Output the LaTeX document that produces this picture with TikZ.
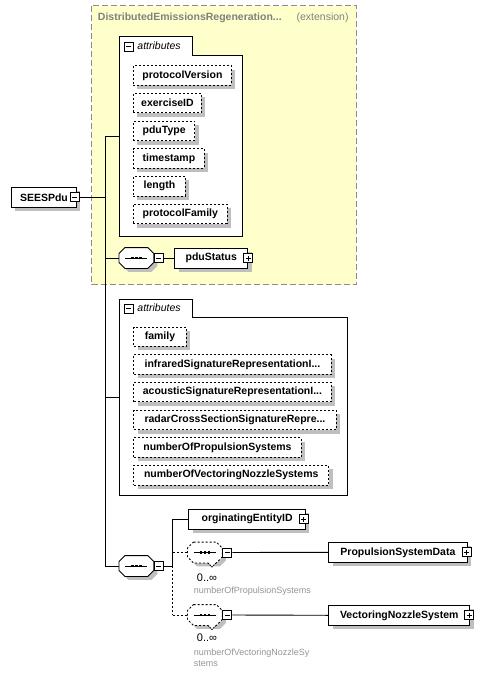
\documentclass[tikz,border=0pt]{standalone}
\usepackage{fontspec}
\setmainfont{Liberation Sans}
\usetikzlibrary{shadows}
\definecolor{extyellow}{HTML}{FFFFCC}
\newcommand\cut{...}
% octagon round a node: name, xshift, yshift
\newcommand\octa[3]{([xshift=#2+6pt,yshift=#3]#1.north west) -- ([xshift=#2-6pt,yshift=#3]#1.north east) -- ([xshift=#2,yshift=#3-6pt]#1.north east)
	-- ([xshift=#2,yshift=#3+6pt]#1.south east) -- ([xshift=#2-6pt,yshift=#3]#1.south east) -- ([xshift=#2+6pt,yshift=#3]#1.south west)
	-- ([xshift=#2,yshift=#3+6pt]#1.south west) -- ([xshift=#2,yshift=#3-6pt]#1.north west) -- cycle}
\begin{document}
\begin{tikzpicture}[x=1pt,y=-1pt,font=\fontsize{10.5}{12}\selectfont\bfseries,line width=0.9pt,line join=miter,
	shade/.style={general shadow={fill=black!25,shadow xshift=4pt,shadow yshift=-4pt}},
	elem/.style={draw,fill=white,shade,inner sep=0pt,minimum height=20,anchor=west},
	attr/.style={elem,dash pattern=on 2pt off 2pt,minimum height=19.5},
	minus/.style={draw,fill=white,solid,minimum size=9,inner sep=0pt,
		path picture={\draw ([xshift=-2.5pt]path picture bounding box.center)--([xshift=2.5pt]path picture bounding box.center);}},
	plus/.style={draw,fill=white,solid,minimum size=9,inner sep=0pt,
		path picture={\draw ([xshift=-2.5pt]path picture bounding box.center)--([xshift=2.5pt]path picture bounding box.center);
			\draw ([yshift=-2.5pt]path picture bounding box.center)--([yshift=2.5pt]path picture bounding box.center);}},
	seq/.style={rectangle,minimum width=34,minimum height=20,inner sep=0pt,anchor=west},
	dashes/.style={dash pattern=on 2pt off 2pt},
	occ/.style={font=\fontsize{11}{12}\selectfont,anchor=west,inner sep=0pt},
	lbl/.style={font=\fontsize{9}{10.5}\selectfont,text=black!42,anchor=west,inner sep=0pt,align=left}]
	\useasboundingbox (0,0) rectangle (500,678);
	% extension frame
	\draw[draw=black!45,fill=extyellow,dash pattern=on 6pt off 3pt] (91.5,5.5) rectangle (356,284.5);
	\node[anchor=west,text=black!50,inner sep=0pt] (extname) at (97.5,18) {DistributedEmissionsRegeneration\cut};
	\node[anchor=east,text=black!50,font=\fontsize{10.5}{12}\selectfont,inner sep=0pt] (extkind) at (349,18) {(extension)};
	% attribute groups
	\draw[fill=white] (119,236) -- (119,36) -- (192,36) -- (192,55) -- (242.5,55) -- (242.5,236) -- cycle;
	\node[minus] (grpAx) at (128.5,46.5) {};
	\node[anchor=west,font=\fontsize{10.5}{12}\selectfont\itshape,inner sep=0pt] (grpAlbl) at (137,46) {attributes};
	\foreach \n/\w [count=\i] in {protocolVersion/98,exerciseID/68,pduType/61.3,timestamp/71,length/52,protocolFamily/93.7}
		\node[attr,minimum width=\w] (attA\i) at (133,{75.4+27.7*(\i-1)}) {\n};
	\draw[fill=white] (119,495) -- (119,299) -- (192,299) -- (192,317) -- (347,317) -- (347,495) -- cycle;
	\node[minus] (grpBx) at (128.5,308.5) {};
	\node[anchor=west,font=\fontsize{10.5}{12}\selectfont\itshape,inner sep=0pt] (grpBlbl) at (137,308) {attributes};
	\foreach \n/\w [count=\i] in {family/52.4,infraredSignatureRepresentationI\cut/197.4,acousticSignatureRepresentationI\cut/197.4,
		radarCrossSectionSignatureRepre\cut/202.4,numberOfPropulsionSystems/167.4,numberOfVectoringNozzleSystems/195}
		\node[attr,minimum width=\w] (attB\i) at (133.3,{336.7+27.7*(\i-1)}) {\n};
	% sequences
	\node[seq] (seqA) at (119,258) {};
	\node[seq] (seqB) at (119,566) {};
	\node[seq] (repA) at (187.5,552.5) {};
	\node[seq] (repB) at (187.5,615) {};
	\foreach \s/\st in {seqA/solid,seqB/solid,repA/dashes,repB/dashes} {
		\fill[black!25] \octa{\s}{3.5pt}{-3.5pt};
		\draw[fill=white,\st] \octa{\s}{0pt}{0pt};
		\draw ([xshift=-11pt]\s.center) -- ([xshift=11pt]\s.center);
		\foreach \d in {-4,0,4} \fill ([xshift=\d pt]\s.center) +(-1.4pt,-1.4pt) rectangle +(1.4pt,1.4pt);
	}
	% repeat notches
	\foreach \r in {repA,repB} {
		\fill[white] ([xshift=3pt]\r.south) -- ([xshift=7pt,yshift=-4pt]\r.south) -- ([xshift=11pt]\r.south) -- cycle;
		\draw[white,line width=1.2pt] ([xshift=3pt]\r.south) -- ([xshift=11pt]\r.south);
		\draw[dash pattern=on 1.5pt off 1pt] ([xshift=3pt]\r.south) -- ([xshift=7pt,yshift=-4pt]\r.south) -- ([xshift=11pt]\r.south);
	}
	\node[minus,anchor=west] (seqAx) at (seqA.east) {};
	\node[minus,anchor=west] (seqBx) at (seqB.east) {};
	\node[minus,anchor=west] (repAx) at (repA.east) {};
	\node[minus,anchor=west] (repBx) at (repB.east) {};
	% elements
	\node[elem,minimum width=65] (root) at (11,197.3) {SEESPdu\hspace{5pt}};
	\node[minus] (rootx) at ([xshift=-2pt]root.east) {};
	\node[elem,minimum width=73] (pdu) at (174.3,258) {pduStatus};
	\node[plus] (pdux) at (pdu.east) {};
	\node[elem,minimum width=116.7] (orig) at (188.3,519.3) {orginatingEntityID\hspace{6pt}};
	\node[plus] (origx) at ([xshift=-2pt]orig.east) {};
	\node[elem,minimum width=138.3] (prop) at (328.3,552.3) {PropulsionSystemData\hspace{6pt}};
	\node[plus] (propx) at ([xshift=-1pt]prop.east) {};
	\node[elem,minimum width=141] (vect) at (328.3,615.3) {VectoringNozzleSystem\hspace{6pt}};
	\node[plus] (vectx) at ([xshift=-1pt]vect.east) {};
	% junctions
	\coordinate (tS) at (105,197.3);
	\coordinate (tA) at (105,136);
	\coordinate (tC) at (105,397);
	\coordinate (tD) at (105,566);
	\coordinate (grpA) at (119,136);
	\coordinate (grpB) at (119,397);
	\coordinate (jA) at (172.7,519.3);
	\coordinate (jB) at (172.7,552.5);
	\coordinate (jC) at (172.7,615);
	\coordinate (jD) at (172.7,566);
	% connectors
	\draw (rootx.east) -- (tS);
	\draw (tA) -- (tD);
	\draw (tA) -- (grpA);
	\draw (tC) -- (grpB);
	\draw (tA |- seqA.west) -- (seqA.west);
	\draw (seqAx.east) -- (pdu.west);
	\draw (tD) -- (seqB.west);
	\draw (seqBx.east) -- (jD);
	\draw (jA) -- (jD);
	\draw[dashes] (jD) -- (jC);
	\draw (jA) -- (orig.west);
	\draw[dashes] (jB) -- (repA.west);
	\draw[dashes] (jC) -- (repB.west);
	\draw (repAx.east) -- (prop.west);
	\draw (repBx.east) -- (vect.west);
	% occurrence labels
	\node[occ] (occA) at (196.5,577.5) {0..∞};
	\node[lbl] (nameA) at (193.3,590.7) {numberOfPropulsionSystems};
	\node[occ] (occB) at (196.5,637.5) {0..∞};
	\node[lbl,anchor=north west] (nameB) at (193.3,649) {numberOfVectoringNozzleSy\\stems};
\end{tikzpicture}
\end{document}
